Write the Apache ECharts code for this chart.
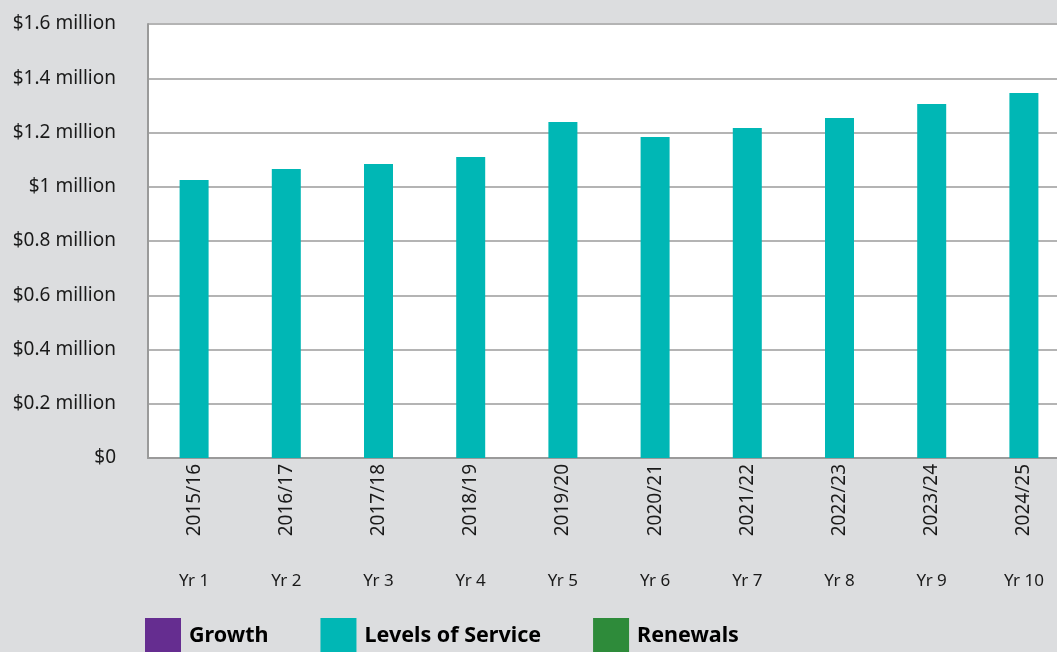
<!DOCTYPE html>
<html>
<head>
<meta charset="utf-8">
<script src="https://cdn.jsdelivr.net/npm/echarts@6/dist/echarts.min.js"></script>
<style>
  html, body { margin: 0; padding: 0; background: #dcdddf; }
  #chart { width: 1057px; height: 652px; }
</style>
</head>
<body>
<div id="chart"></div>
<script>
// data (values in $ million)
const years = ['2015/16', '2016/17', '2017/18', '2018/19', '2019/20', '2020/21', '2021/22', '2022/23', '2023/24', '2024/25']
const yearNos = ['Yr 1', 'Yr 2', 'Yr 3', 'Yr 4', 'Yr 5', 'Yr 6', 'Yr 7', 'Yr 8', 'Yr 9', 'Yr 10']
const growth = []
const levelsOfService = [1.025, 1.065, 1.084, 1.11, 1.239, 1.183, 1.217, 1.253, 1.305, 1.346]
const renewals = []

const txt = '#1a1a1a'
const font = 'Noto Sans'

const chart = echarts.init(document.getElementById('chart'))
chart.setOption({
  backgroundColor: '#dcdddf',
  animation: false,
  textStyle: { fontFamily: font },
  grid: {
    left: 148, top: 24, bottom: 194, width: 922,
    outerBoundsMode: 'none',
    show: true, backgroundColor: '#ffffff', borderWidth: 0
  },
  legend: {
    left: 145, top: 618, padding: 0,
    itemWidth: 36, itemHeight: 36, itemGap: 52,
    icon: 'rect',
    textStyle: { fontSize: 21.5, fontWeight: 'bold', color: '#000', fontFamily: font, padding: [2, 0, 0, 3] },
    data: ['Growth', 'Levels of Service', 'Renewals']
  },
  xAxis: [
    {
      type: 'category', data: years,
      axisLine: { lineStyle: { color: '#9a9a9a', width: 2 } },
      axisTick: { show: false },
      axisLabel: { rotate: 90, margin: 6, fontSize: 19, color: txt, fontFamily: font }
    },
    {
      type: 'category', data: yearNos, position: 'bottom', offset: 107,
      axisLine: { show: false },
      axisTick: { show: false },
      axisLabel: { margin: 8, fontSize: 17, color: txt, fontFamily: font }
    }
  ],
  yAxis: {
    type: 'value', min: 0, max: 1.6, interval: 0.2,
    axisLine: { show: true, lineStyle: { color: '#9a9a9a', width: 2 } },
    axisTick: { show: false },
    splitLine: { lineStyle: { color: '#b4b4b4', width: 2 } },
    axisLabel: {
      margin: 32, fontSize: 19, color: txt, fontFamily: font,
      formatter: v => v === 0 ? '$0' : '$' + (+v.toFixed(1)) + ' million'
    }
  },
  series: [
    { name: 'Growth', type: 'bar', stack: 'total', barWidth: 29, data: growth, itemStyle: { color: '#652d90' } },
    { name: 'Levels of Service', type: 'bar', stack: 'total', barWidth: 29, data: levelsOfService, itemStyle: { color: '#00b7b5' } },
    { name: 'Renewals', type: 'bar', stack: 'total', barWidth: 29, data: renewals, itemStyle: { color: '#2e8b3a' } }
  ]
})
</script>
</body>
</html>
